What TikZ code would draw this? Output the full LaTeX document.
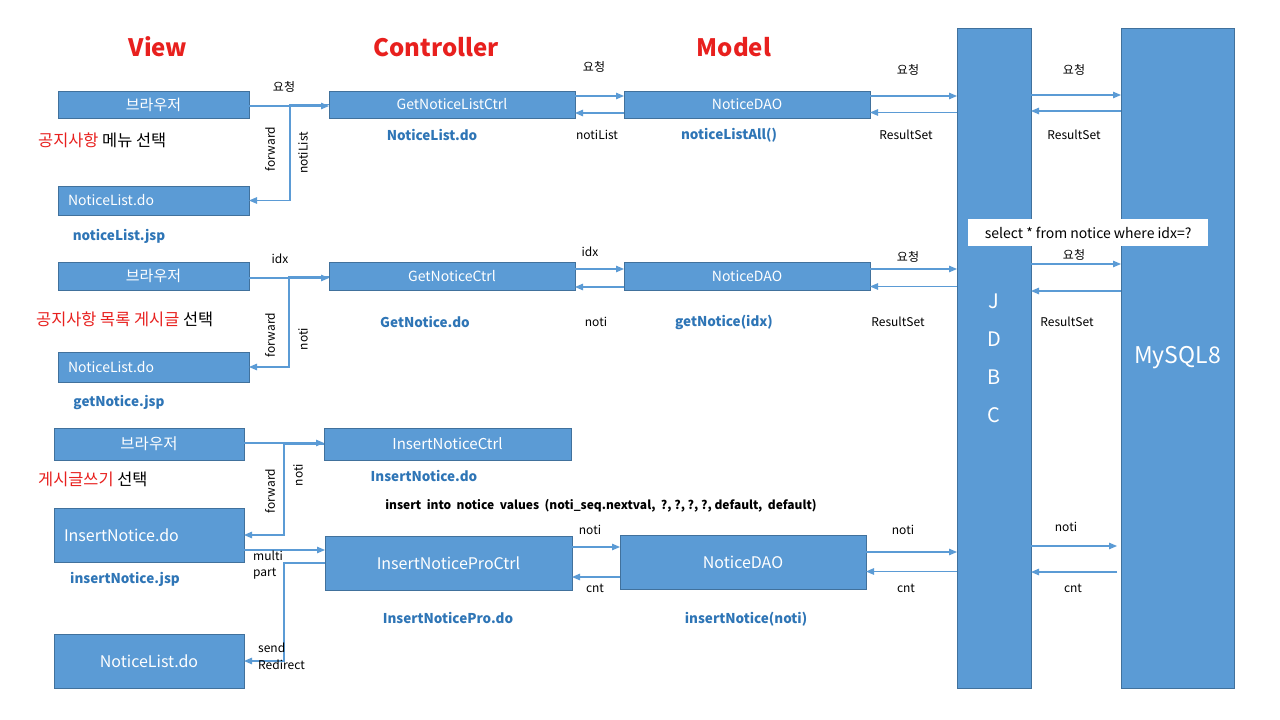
\documentclass[tikz,border=0pt]{standalone}
\usepackage{fontspec}
\setmainfont{Noto Sans CJK KR}
\usetikzlibrary{arrows.meta}
\definecolor{boxc}{HTML}{5B9BD5}
\definecolor{bordc}{HTML}{41719C}
\definecolor{arrc}{HTML}{5B9BD5}
\definecolor{lblue}{HTML}{2E75B6}
\definecolor{tred}{HTML}{E8201E}
\begin{document}
\begin{tikzpicture}[x=1pt,y=-1pt,
  box/.style={draw=bordc, line width=0.8pt, fill=boxc, text=white, inner sep=0pt, outer sep=0pt, anchor=north west, font=\fontsize{14}{16}\selectfont},
  bigbox/.style={box, font=\fontsize{16}{18}\selectfont},
  lbox/.style={align=left, inner xsep=10pt},
  arr/.style={draw=arrc, line width=1.1pt, -{Triangle[length=8pt,width=6.5pt]}},
  lbl/.style={font=\fontsize{12}{14}\selectfont, inner sep=0pt},
  blbl/.style={font=\fontsize{13.5}{15}\selectfont\bfseries, text=lblue, inner sep=0pt},
  kcap/.style={font=\fontsize{16.4}{18}\selectfont, inner sep=0pt, anchor=west},
  ttl/.style={font=\fontsize{24}{28}\selectfont\bfseries, text=tred, inner sep=0pt}
]
\useasboundingbox[fill=white] (0,0) rectangle (1280,720);

% titles
\node[ttl] (tv) at (158,47) {View};
\node[ttl] (tc) at (436,47) {Controller};
\node[ttl] (tm) at (734,47) {Model};

% big columns
\node[box, minimum width=74pt, minimum height=660pt, align=center, font=\fontsize{20}{38}\selectfont] (jdbc) at (957,28) {J\\D\\B\\C};
\node[box, minimum width=113pt, minimum height=660pt, font=\fontsize{23}{26}\selectfont] (my) at (1121,28) {MySQL8};
\node[fill=white, minimum width=240pt, minimum height=27pt, anchor=north west, inner sep=0pt, font=\fontsize{14}{16}\selectfont] (sq) at (968,219) {select * from notice where idx=?};

% row 1
\node[box, minimum width=191pt, minimum height=27pt, font=\fontsize{15}{17}\selectfont] (b1) at (58,91) {브라우저};
\node[box, lbox, minimum width=191pt, minimum height=29pt, text width=171pt] (nl1) at (58,186) {NoticeList.do};
\node[box, minimum width=246pt, minimum height=27pt] (c1) at (329,91) {GetNoticeListCtrl};
\node[box, minimum width=246pt, minimum height=27pt] (d1) at (624,91) {NoticeDAO};

% row 2
\node[box, minimum width=191pt, minimum height=28pt, font=\fontsize{15}{17}\selectfont] (b2) at (58,262) {브라우저};
\node[box, lbox, minimum width=191pt, minimum height=30pt, text width=171pt] (nl2) at (58,352) {NoticeList.do};
\node[box, minimum width=246pt, minimum height=28pt] (c2) at (329,262) {GetNoticeCtrl};
\node[box, minimum width=246pt, minimum height=28pt] (d2) at (624,262) {NoticeDAO};

% row 3
\node[box, minimum width=190pt, minimum height=32pt, font=\fontsize{15.5}{17}\selectfont] (b3) at (54,428) {브라우저};
\node[bigbox, lbox, minimum width=190pt, minimum height=54pt, text width=170pt] (in) at (54,508) {InsertNotice.do};
\node[bigbox, minimum width=190pt, minimum height=54pt] (nl3) at (54,634) {NoticeList.do};
\node[box, minimum width=247pt, minimum height=32pt, font=\fontsize{15}{17}\selectfont] (ic) at (324,428) {InsertNoticeCtrl};
\node[bigbox, minimum width=247pt, minimum height=54pt] (pc) at (325,536) {InsertNoticeProCtrl};
\node[bigbox, minimum width=246pt, minimum height=54pt] (d3) at (620,535) {NoticeDAO};

% connectors row 1
\draw[arr] ([yshift=-1.5pt]b1.east) -- ([yshift=-1.5pt]b1.east -| c1.west);
\draw[arr] (c1.west) -- ++(-39,0) |- (nl1.east);
\draw[arr] ([yshift=8.5pt]c1.east) -- ([yshift=8.5pt]d1.west);
\draw[arr] ([yshift=-8.5pt]d1.west) -- ([yshift=-8.5pt]c1.east);
\draw[arr] ([yshift=8.5pt]d1.east) -- ([yshift=8.5pt]d1.east -| jdbc.west);
\draw[arr] ([yshift=-8pt]d1.east -| jdbc.west) -- ([yshift=-8pt]d1.east);
\draw[arr] ([yshift=9.5pt]d1.east -| jdbc.east) -- ([yshift=9.5pt]d1.east -| my.west);
\draw[arr] ([yshift=-6.5pt]d1.east -| my.west) -- ([yshift=-6.5pt]d1.east -| jdbc.east);

% connectors row 2
\draw[arr] ([yshift=-2pt]b2.east) -- ([yshift=-2pt]b2.east -| c2.west);
\draw[arr] ([yshift=-1pt]c2.west) -- ++(-40,0) |- (nl2.east);
\draw[arr] ([yshift=7pt]c2.east) -- ([yshift=7pt]d2.west);
\draw[arr] ([yshift=-11pt]d2.west) -- ([yshift=-11pt]c2.east);
\draw[arr] ([yshift=7pt]d2.east) -- ([yshift=7pt]d2.east -| jdbc.west);
\draw[arr] ([yshift=-10.5pt]d2.east -| jdbc.west) -- ([yshift=-10.5pt]d2.east);
\draw[arr] ([yshift=12pt]d2.east -| jdbc.east) -- ([yshift=12pt]d2.east -| my.west);
\draw[arr] ([yshift=-15pt]d2.east -| my.west) -- ([yshift=-15pt]d2.east -| jdbc.east);

% connectors row 3
\draw[arr] ([yshift=1pt]b3.east) -- ([yshift=1pt]b3.east -| ic.west);
\draw[arr] (ic.west) -- ++(-40,0) |- (in.east);
\draw[arr] ([yshift=-15pt]in.east) -- ([yshift=-15pt]in.east -| pc.west);
\draw[arr] (pc.west) -- ++(-41,0) |- (nl3.east);
\draw[arr] ([yshift=16pt]pc.east) -- ([yshift=16pt]pc.east -| d3.west);
\draw[arr] ([yshift=-14pt]pc.east -| d3.west) -- ([yshift=-14pt]pc.east);
\draw[arr] ([yshift=10pt]d3.east) -- ([yshift=10pt]d3.east -| jdbc.west);
\draw[arr] ([yshift=-9.5pt]d3.east -| jdbc.west) -- ([yshift=-9.5pt]d3.east);
\draw[arr] ([yshift=16pt]d3.east -| jdbc.east) -- ([yshift=16pt,xshift=-4pt]d3.east -| my.west);
\draw[arr] ([yshift=-10pt,xshift=-4pt]d3.east -| my.west) -- ([yshift=-10pt]d3.east -| jdbc.east);

% captions
\node[kcap] (k1) at (38,140) {\textcolor{tred}{공지사항} 메뉴 선택};
\node[kcap] (k2) at (36,319) {\textcolor{tred}{공지사항 목록 게시글} 선택};
\node[kcap] (k3) at (38,479) {\textcolor{tred}{게시글쓰기} 선택};

% blue labels
\node[blbl] (j1) at (119,236) {noticeList.jsp};
\node[blbl] (j2) at (119,402) {getNotice.jsp};
\node[blbl] (j3) at (125,579) {insertNotice.jsp};
\node[blbl] (u1) at (432,135) {NoticeList.do};
\node[blbl] (u2) at (425,322) {GetNotice.do};
\node[blbl] (u3) at (424,476) {InsertNotice.do};
\node[blbl] (u4) at (448,618) {InsertNoticePro.do};
\node[blbl] (m1) at (729,135) {noticeListAll()};
\node[blbl] (m2) at (724,322) {getNotice(idx)};
\node[blbl] (m3) at (746,619) {insertNotice(noti)};

\node[font=\fontsize{12}{14}\selectfont\bfseries, inner sep=0pt] (sql) at (601,506) {insert\ \ into\ \ notice\ \ values\ \ (noti\_seq.nextval,\ \ ?, ?, ?, ?, default,\ \ default)};

% connector labels row 1
\node[lbl] at (284,87) {요청};
\node[lbl, rotate=90] at (270,149) {forward};
\node[lbl, rotate=90] at (303,153) {notiList};
\node[lbl] at (594,67) {요청};
\node[lbl] at (597,135) {notiList};
\node[lbl] at (908,70) {요청};
\node[lbl] at (906,135) {ResultSet};
\node[lbl] at (1074,70) {요청};
\node[lbl] at (1074,135) {ResultSet};

% row 2
\node[lbl] at (280,259) {idx};
\node[lbl, rotate=90] at (270,335) {forward};
\node[lbl, rotate=90] at (303,339) {noti};
\node[lbl] at (590,252) {idx};
\node[lbl] at (596,322) {noti};
\node[lbl] at (908,257) {요청};
\node[lbl] at (898,322) {ResultSet};
\node[lbl] at (1074,255) {요청};
\node[lbl] at (1067,322) {ResultSet};

% row 3
\node[lbl, rotate=90] at (270,491) {forward};
\node[lbl, rotate=90] at (298,475) {noti};
\node[lbl, anchor=west] at (253,556) {multi};
\node[lbl, anchor=west] at (253,574) {part};
\node[lbl, anchor=west] at (258,648) {send};
\node[lbl, anchor=west] at (258,665) {Redirect};
\node[lbl] at (590,530) {noti};
\node[lbl] at (595,588) {cnt};
\node[lbl] at (903,530) {noti};
\node[lbl] at (906,588) {cnt};
\node[lbl] at (1066,527) {noti};
\node[lbl] at (1073,588) {cnt};
\end{tikzpicture}
\end{document}
